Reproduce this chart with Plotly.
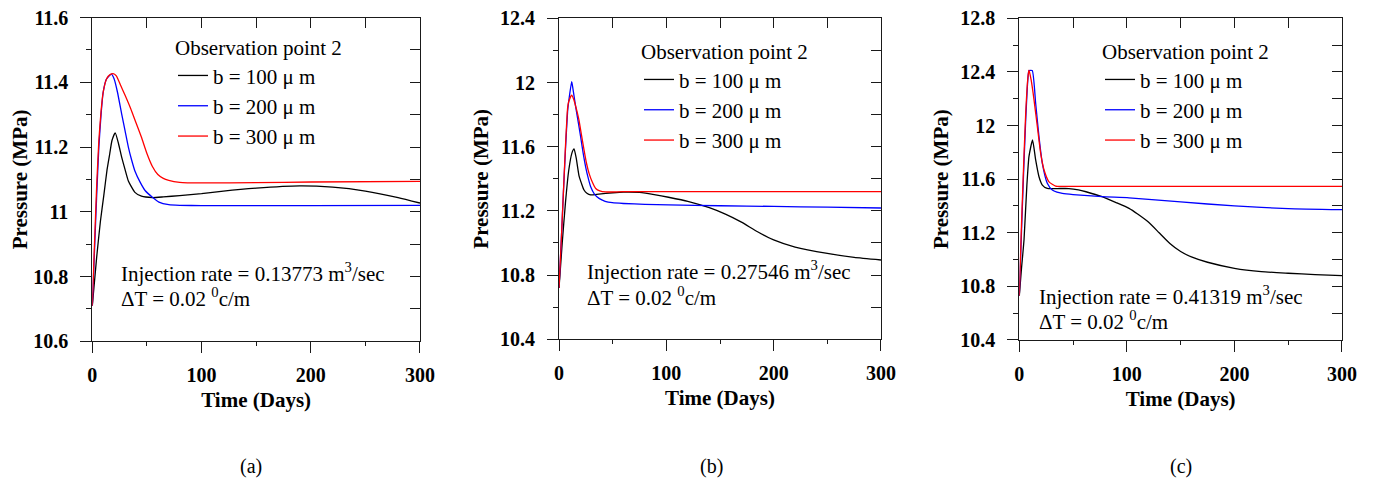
import plotly.graph_objects as go

FONT = "Liberation Serif"

# ---------------- data ----------------
# Panel (a): injection rate 0.13773 m3/sec
a_black_t = [0, 4, 7.4, 10.5, 13.5, 16, 18, 21, 24, 27, 30, 33, 39, 45, 55, 65, 80, 100, 120, 150, 190, 220, 250, 280, 300]
a_black_p = [10.71, 10.86, 10.97, 11.05, 11.13, 11.18, 11.22, 11.244, 11.21, 11.167, 11.13, 11.095, 11.06, 11.048, 11.044,
             11.046, 11.05, 11.056, 11.064, 11.073, 11.08, 11.076, 11.064, 11.044, 11.027]
a_blue_t = [0, 2, 4, 6, 8, 10, 13, 17.5, 20, 23, 27, 30, 33, 36, 39, 44, 48.5, 55, 61, 70, 80, 100, 200, 300]
a_blue_p = [10.71, 10.88, 11.05, 11.2, 11.3, 11.37, 11.41, 11.425, 11.41, 11.37, 11.30, 11.25, 11.20, 11.16, 11.126, 11.09,
            11.065, 11.045, 11.03, 11.022, 11.02, 11.019, 11.019, 11.02]
a_red_t = [0, 2, 4, 6, 8, 10, 13, 16, 19, 22, 26, 30, 35, 40, 45, 50, 55, 60, 65, 70, 80, 100, 150, 200, 300]
a_red_p = [10.71, 10.9, 11.08, 11.22, 11.31, 11.37, 11.41, 11.423, 11.427, 11.42, 11.39, 11.36, 11.32, 11.275, 11.23, 11.18,
           11.14, 11.115, 11.103, 11.097, 11.091, 11.089, 11.09, 11.092, 11.094]

# Panel (b): injection rate 0.27546 m3/sec
b_black_t = [0, 3, 6, 9, 12, 14, 16, 18.6, 21, 23.3, 26, 29.5, 37, 50, 60, 75, 90, 102, 120, 140, 155, 170, 185, 200, 220, 250,
             275, 300]
b_black_p = [10.72, 11.0, 11.25, 11.45, 11.56, 11.586, 11.53, 11.42, 11.37, 11.33, 11.31, 11.30, 11.305, 11.313, 11.317,
             11.315, 11.30, 11.285, 11.26, 11.22, 11.18, 11.13, 11.07, 11.02, 10.975, 10.935, 10.91, 10.894]
b_blue_t = [0, 2, 4, 6, 8, 9, 11.8, 13, 15.5, 18, 20.2, 22.5, 24.8, 27, 29.5, 33, 37.3, 43, 49.7, 60, 80, 102, 150, 200, 250, 300]
b_blue_p = [10.72, 11.0, 11.3, 11.58, 11.82, 11.88, 12.005, 11.96, 11.85, 11.75, 11.66, 11.56, 11.475, 11.41, 11.35, 11.305,
            11.278, 11.26, 11.251, 11.246, 11.241, 11.237, 11.232, 11.228, 11.223, 11.218]
b_red_t = [0, 2, 4, 6, 8, 9, 11.8, 14, 16, 18.6, 21, 23.3, 25.5, 28, 31, 34.2, 38, 43.5, 60, 100, 200, 300]
b_red_p = [10.72, 11.0, 11.3, 11.6, 11.84, 11.88, 11.922, 11.89, 11.84, 11.766, 11.67, 11.58, 11.5, 11.434, 11.38, 11.34,
           11.325, 11.318, 11.32, 11.32, 11.32, 11.32]

# Panel (c): injection rate 0.41319 m3/sec
c_black_t = [0, 2, 4.4, 7, 9, 12.3, 15.2, 18.3, 21.4, 26, 35, 46, 55, 62, 77, 90, 102, 110, 120, 130, 140, 150, 160, 175, 200,
             225, 250, 275, 300]
c_black_p = [10.73, 10.93, 11.15, 11.55, 11.77, 11.892, 11.743, 11.618, 11.556, 11.531, 11.53, 11.53, 11.52, 11.506, 11.469,
             11.425, 11.382, 11.34, 11.28, 11.2, 11.12, 11.06, 11.02, 10.98, 10.935, 10.91, 10.898, 10.888, 10.88]
c_blue_t = [0, 2, 4, 6, 8, 9, 12, 15.2, 18.3, 21.4, 26, 30.7, 35, 40, 50, 77, 102, 150, 200, 250, 300]
c_blue_p = [10.73, 11.2, 11.65, 12.05, 12.35, 12.41, 12.41, 12.166, 11.916, 11.718, 11.57, 11.519, 11.503, 11.494, 11.485,
            11.469, 11.461, 11.43, 11.40, 11.38, 11.372]
c_red_t = [0, 2, 4, 6, 8, 9, 11, 13.7, 16.8, 19.9, 23, 27.6, 33.8, 40, 50, 150, 300]
c_red_p = [10.73, 11.25, 11.7, 12.1, 12.36, 12.414, 12.34, 12.19, 11.99, 11.79, 11.668, 11.58, 11.548, 11.546, 11.546, 11.546,
           11.546]

series_names = ["b = 100 \u03bc m", "b = 200 \u03bc m", "b = 300 \u03bc m"]
series_colors = ["#000000", "#0000ff", "#ff0000"]
legend_title = "Observation point 2"
rate_texts = ["Injection rate = 0.13773 m<sup>3</sup>/sec",
              "Injection rate = 0.27546 m<sup>3</sup>/sec",
              "Injection rate = 0.41319 m<sup>3</sup>/sec"]
dt_text = "\u0394T = 0.02 <sup>0</sup>c/m"
captions = ["(a)", "(b)", "(c)"]
y_ranges = [(10.6, 11.6), (10.4, 12.4), (10.4, 12.8)]
y_major = [0.2, 0.4, 0.4]
y_minor = [0.1, 0.2, 0.2]
x_range = (0, 300)
x_title = "Time (Days)"
y_title = "Pressure (MPa)"

panel_series = [
    [(a_black_t, a_black_p), (a_blue_t, a_blue_p), (a_red_t, a_red_p)],
    [(b_black_t, b_black_p), (b_blue_t, b_blue_p), (b_red_t, b_red_p)],
    [(c_black_t, c_black_p), (c_blue_t, c_blue_p), (c_red_t, c_red_p)],
]

# ---------------- layout geometry (page pixels; the page body adds an 8px offset) ----------------
W, H, OFF = 1374, 490, 8


def px_x(px):
    return (px - OFF) / W


def px_y(py):
    return 1 - (py - OFF) / H


plot_px = [(92.3, 420.0, 17.5, 341.3), (559.0, 881.0, 18.3, 339.3), (1019.3, 1342.0, 18.3, 340.0)]
legend_px = [(173, 28), (639, 32), (1100, 32)]
ann_px = [((119, 272), (119, 297)), ((585, 270), (585, 296)), ((1037, 295), (1037, 320))]
cap_px = [(251, 466), (711, 466), (1181, 466)]

AX = "#1a1a1a"
fig = go.Figure()
layout = dict(
    width=W, height=H,
    margin=dict(l=0, r=0, t=0, b=0, autoexpand=False),
    paper_bgcolor="white", plot_bgcolor="white",
    font=dict(family=FONT, color="black"),
    annotations=[],
)

for i in range(3):
    n = i + 1
    sfx = "" if n == 1 else str(n)
    xa, ya = "x" + sfx, "y" + sfx
    leg = "legend" + sfx
    for (t, p), name, col in zip(panel_series[i], series_names, series_colors):
        fig.add_trace(go.Scatter(
            x=t, y=p, mode="lines", name=name,
            line=dict(color=col, width=1.3, shape="spline", smoothing=0.5),
            xaxis=xa, yaxis=ya, legend=leg, legendgroup=f"{n}{name}",
            showlegend=True,
        ))
    # carrier for the mirrored (top/right) frame axes
    fig.add_trace(go.Scatter(x=[], y=[], mode="lines", showlegend=False, hoverinfo="skip",
                             xaxis=f"x{n + 3}", yaxis=f"y{n + 3}"))
    l, r, t_, b_ = plot_px[i]
    y0, y1 = y_ranges[i]
    pad = 1e-4
    xr = [x_range[0] - 0.01, x_range[1] + 0.01]
    yr = [y0 - pad, y1 + pad]
    layout["xaxis" + sfx] = dict(
        domain=[px_x(l), px_x(r)], anchor=ya, range=xr, automargin=False,
        showgrid=False, zeroline=False, showline=True, linecolor=AX, linewidth=1,
        ticks="outside", ticklen=11, tickcolor=AX, dtick=100, tick0=0,
        minor=dict(ticks="outside", ticklen=4, dtick=50, tickcolor=AX, showgrid=False),
        tickfont=dict(family=FONT, size=20, weight="bold"), ticklabelstandoff=5,
        ticklabeloverflow="allow",
        title=dict(text=x_title, font=dict(family=FONT, size=21, weight="bold"), standoff=7),
    )
    layout["yaxis" + sfx] = dict(
        domain=[px_y(b_), px_y(t_)], anchor=xa, range=yr, automargin=False,
        showgrid=False, zeroline=False, showline=True, linecolor=AX, linewidth=1,
        ticks="outside", ticklen=11, tickcolor=AX, dtick=y_major[i], tick0=0,
        minor=dict(ticks="outside", ticklen=5, dtick=y_minor[i], tickcolor=AX, showgrid=False),
        tickfont=dict(family=FONT, size=20, weight="bold"), ticklabelstandoff=8,
        ticklabeloverflow="allow",
        title=dict(text=y_title, font=dict(family=FONT, size=21, weight="bold"), standoff=5),
    )
    layout[f"xaxis{n + 3}"] = dict(
        overlaying=xa, anchor=f"y{n + 3}", side="top", range=xr, automargin=False,
        showgrid=False, zeroline=False, showline=True, linecolor=AX, linewidth=1,
        ticks="inside", ticklen=10, tickcolor=AX, dtick=50, tick0=0, showticklabels=False,
    )
    layout[f"yaxis{n + 3}"] = dict(
        overlaying=ya, anchor=f"x{n + 3}", side="right", range=yr, automargin=False,
        showgrid=False, zeroline=False, showline=True, linecolor=AX, linewidth=1,
        ticks="inside", ticklen=10, tickcolor=AX, dtick=y_minor[i], tick0=0, showticklabels=False,
    )
    layout[leg] = dict(
        x=px_x(legend_px[i][0]), y=px_y(legend_px[i][1]), xanchor="left", yanchor="top",
        xref="paper", yref="paper", bgcolor="rgba(0,0,0,0)", borderwidth=0,
        font=dict(family=FONT, size=21, color="black"),
        title=dict(text=legend_title, font=dict(family=FONT, size=21, color="black")),
        tracegroupgap=6, traceorder="normal",
    )
    (ax1, ay1), (ax2, ay2) = ann_px[i]
    layout["annotations"].append(dict(
        text=rate_texts[i], x=px_x(ax1), y=px_y(ay1), xref="paper", yref="paper",
        xanchor="left", yanchor="middle", showarrow=False,
        font=dict(family=FONT, size=21, color="black")))
    layout["annotations"].append(dict(
        text=dt_text, x=px_x(ax2), y=px_y(ay2), xref="paper", yref="paper",
        xanchor="left", yanchor="middle", showarrow=False,
        font=dict(family=FONT, size=21, color="black")))
    layout["annotations"].append(dict(
        text=captions[i], x=px_x(cap_px[i][0]), y=px_y(cap_px[i][1]), xref="paper", yref="paper",
        xanchor="center", yanchor="middle", showarrow=False,
        font=dict(family=FONT, size=20, color="black")))

fig.update_layout(**layout)
fig.write_html("out.html")
